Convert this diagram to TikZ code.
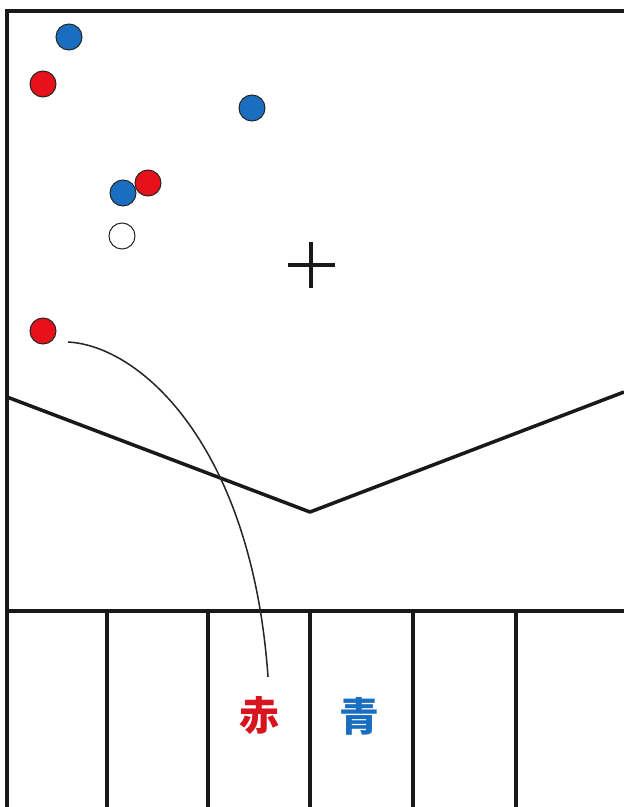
\documentclass[tikz,border=0pt]{standalone}
\usepackage{fontspec}
\newfontfamily\jpfont{Noto Sans CJK JP}
\usetikzlibrary{positioning, calc}
\usepackage{xcolor}
\definecolor{ballred}{HTML}{E8101A}
\definecolor{ballblue}{HTML}{1A6EC0}
\definecolor{textred}{HTML}{D8141E}

\begin{document}
\begin{tikzpicture}[x=0.03cm, y=-0.03cm,
    wall/.style={line width=3pt, black!90},
    ball/.style={circle, draw=black!85, fill=#1, line width=0.9pt,
                 minimum size=0.78cm, inner sep=0pt},
    shot/.style={line width=1.3pt, black!85},
    label/.style={font=\jpfont\bfseries\fontsize{34}{34}\selectfont, text=#1}
  ]
    \useasboundingbox (0,0) rectangle (624,807);

    % court
    \draw[wall] (7,807) -- (7,11) -- (624,11);
    \draw[wall] (7,611) -- (624,611);
    \foreach \x in {107,208,310,413,516}
      \draw[wall] (\x,611) -- (\x,807);
    \draw[wall, line join=round] (7,397) -- (310,512) -- (624,392);

    % centre mark
    \draw[wall, line width=3.4pt] (288,265) -- (335,265);
    \draw[wall, line width=3.4pt] (311,242) -- (311,288);

    % balls
    \node[ball=ballblue] (b1) at (69,37) {};
    \node[ball=ballred] (r1) at (43,84) {};
    \node[ball=ballblue] (b2) at (252,108) {};
    \node[ball=ballred] (r2) at (148,183) {};
    \node[ball=ballblue] (b3) at (123,193) {};
    \node[ball=white] (w1) at (122,236) {};
    \node[ball=ballred] (r3) at (43,331) {};

    % labels
    \node[label=textred] (aka) at (259,716) {赤};
    \node[label=ballblue] (ao) at (359,716) {青};

    \coordinate (shotstart) at (68,342);
    \coordinate (shotend) at ($(aka.north)+(9,-16)$);
    \draw[shot] (shotstart) .. controls (142,346) and (252,448) .. (shotend);
\end{tikzpicture}
\end{document}
